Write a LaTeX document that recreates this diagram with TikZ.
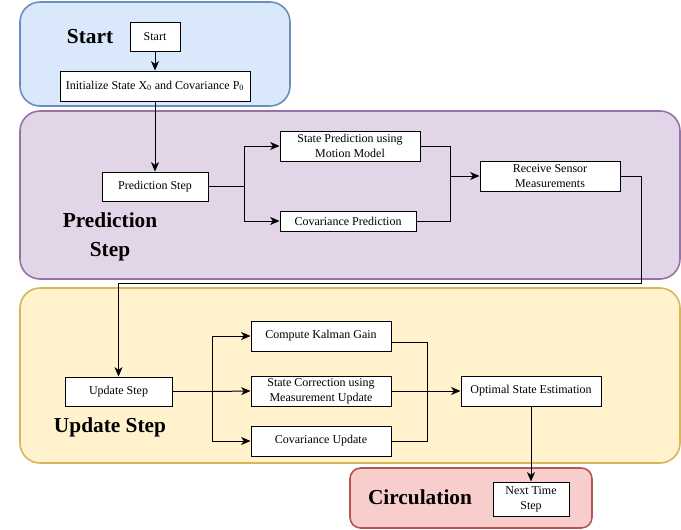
\documentclass[tikz,border=0pt]{standalone}
\usepackage{fontspec}
\setmainfont{Liberation Serif}
\usetikzlibrary{arrows.meta}
\definecolor{bfill}{HTML}{DAE8FC}\definecolor{bline}{HTML}{6C8EBF}
\definecolor{pfill}{HTML}{E1D5E7}\definecolor{pline}{HTML}{9673A6}
\definecolor{yfill}{HTML}{FFF2CC}\definecolor{yline}{HTML}{D6B656}
\definecolor{rfill}{HTML}{F8CECC}\definecolor{rline}{HTML}{B85450}
\tikzset{
  panel/.style={line width=1.2pt, rounded corners=15pt},
  bx/.style={draw=black, fill=white, line width=0.75pt, inner sep=1pt, align=center,
    font=\fontsize{9}{11.25}\selectfont},
  ttl/.style={font=\fontsize{16}{21.75}\selectfont\bfseries, align=center, inner sep=0pt},
  ln/.style={draw=black, line width=0.75pt},
  arr/.style={ln, -{Stealth[length=7pt,width=6pt,inset=2pt]}}
}
\begin{document}
\begin{tikzpicture}[x=0.75pt,y=-0.75pt]
\useasboundingbox (0,0) rectangle (681,529);
% containers
\draw[panel, fill=bfill, draw=bline] (20,2) rectangle (290,106);
\draw[panel, fill=pfill, draw=pline] (20,111) rectangle (680,279);
\draw[panel, fill=yfill, draw=yline] (20,288) rectangle (680,463);
\draw[panel, fill=rfill, draw=rline, rounded corners=8pt] (350,468) rectangle (592,528);
% titles
\node[ttl] (tstart) at (90,37) {Start};
\node[ttl] (tpred) at (110,236.5) {Prediction\\Step};
\node[ttl] (tupd) at (110,427) {Update Step};
\node[ttl] (tcirc) at (420,497) {Circulation};
% boxes
\node[bx, minimum width=37.5pt, minimum height=21.75pt] (start) at (155,36.5) {Start};
\node[bx, minimum width=142.5pt, minimum height=22.5pt] (init) at (155,86) {Initialize State X\textsubscript{0} and Covariance P\textsubscript{0}};
\node[bx, minimum width=79.5pt, minimum height=21.75pt] (pred) at (155,186.5) {Prediction Step};
\node[bx, minimum width=105pt, minimum height=22.5pt] (sp) at (350,146) {State Prediction using\\Motion Model};
\node[bx, minimum width=102pt, minimum height=15pt] (cp) at (348,221) {Covariance Prediction};
\node[bx, minimum width=105pt, minimum height=22.5pt] (rs) at (550,176) {Receive Sensor\\Measurements};
\node[bx, minimum width=80.25pt, minimum height=21.75pt] (us) at (118.5,391.5) {Update Step};
\node[bx, minimum width=105pt, minimum height=22.5pt] (kg) at (321,336) {Compute Kalman Gain};
\node[bx, minimum width=105pt, minimum height=22.5pt] (sc) at (321,391) {State Correction using\\Measurement Update};
\node[bx, minimum width=105pt, minimum height=22.5pt] (cu) at (321,441) {Covariance Update};
\node[bx, minimum width=105pt, minimum height=22.5pt] (op) at (531,391) {Optimal State Estimation};
\node[bx, minimum width=57pt, minimum height=25.5pt] (nt) at (531,499) {Next Time\\Step};
% junctions
\coordinate (j1) at (244,186.5);
\coordinate (j2) at (450,176);
\coordinate (c1) at (641,283);
\coordinate (c2) at (118.5,283);
\coordinate (j3) at (212,391.5);
\coordinate (j4) at (427,391);
% connectors
\draw[arr] (start) -- (init);
\draw[arr] (init) -- (pred);
\draw[arr] (pred.east) -- (j1) |- (sp.west);
\draw[arr] (j1) |- (cp.west);
\draw[arr] (sp.east) -| (j2) -- (rs.west);
\draw[ln] (cp.east) -| (j2);
\draw[arr] (rs.east) -| (c1) -- (c2) -- (us.north);
\draw[arr] (us.east) -- (j3) |- (kg.west);
\draw[arr] (j3) -- (sc.west);
\draw[arr] (j3) |- (cu.west);
\draw[ln] ([yshift=-4.5pt]kg.east) -| (j4);
\draw[ln] (cu.east) -| (j4);
\draw[arr] (sc.east) -- (op.west);
\draw[arr] (op.south) -- (nt.north);
\end{tikzpicture}
\end{document}
